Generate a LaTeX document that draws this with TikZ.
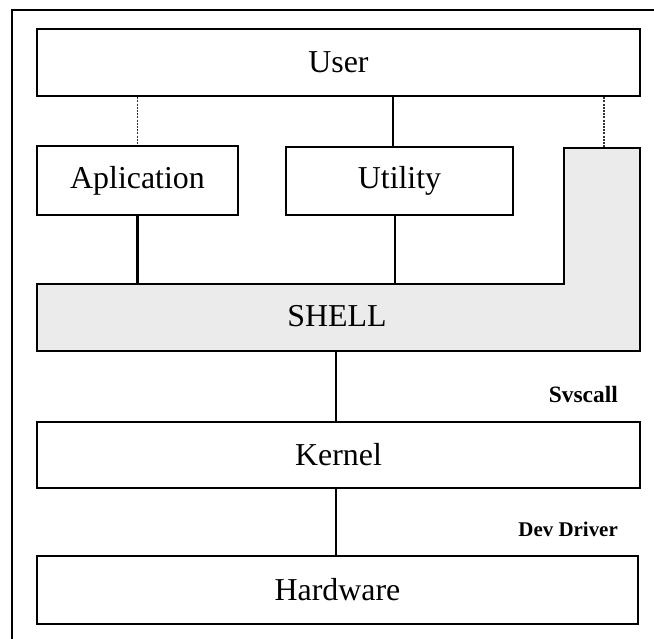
\documentclass[tikz,border=0pt]{standalone}
\usepackage{fontspec}
\setmainfont{Liberation Serif}
\begin{document}
\begin{tikzpicture}[x=1bp,y=-1bp,
  boxstyle/.style={draw=black,line width=2.6bp,fill=white,inner sep=0pt,
    font=\fontsize{32}{36}\selectfont},
  solidlink/.style={draw=black,line width=2.8bp},
  dotlink/.style={draw=black!80,line width=1.4bp,dash pattern=on 2bp off 1.2bp},
  shellfill/.style={draw=black,line width=2.6bp,fill=black!8},
  lbl/.style={font=\bfseries\fontsize{#1}{#1}\selectfont,anchor=east,inner sep=0pt}]
\useasboundingbox (0,0) rectangle (654,639);
\clip (0,0) rectangle (654,639);
\fill[white] (0,0) rectangle (654,639);
% outer frame (right and bottom edges lie outside the picture)
\draw[line width=2.6bp] (12,10) rectangle (700,700);
% boxes
\node[boxstyle,minimum width=603bp,minimum height=67bp] (user) at (338.5,62.5) {User};
\node[boxstyle,minimum width=201bp,minimum height=69bp] (app) at (137.5,180.5) {Aplication};
\node[boxstyle,minimum width=227bp,minimum height=68bp] (util) at (399.5,181) {Utility};
% shell shape
\draw[shellfill] (37,284) -- (564,284) -- (564,148) -- (640,148) -- (640,351) -- (37,351) -- cycle;
\node[font=\fontsize{32}{36}\selectfont,inner sep=0pt] (shell) at (337,316) {SHELL};
\coordinate (shelltop) at (337,284);
\coordinate (shelltab) at (604,148);
\coordinate (shellbot) at (336,351);
\node[boxstyle,minimum width=603bp,minimum height=66bp] (kernel) at (338.5,455) {Kernel};
\node[boxstyle,minimum width=601bp,minimum height=68bp] (hw) at (337.5,590) {Hardware};
% connectors
\draw[dotlink] (user.south -| app.north) -- (app.north);
\draw[solidlink] ([xshift=-6.5bp]user.south -| util.north) -- ([xshift=-6.5bp]util.north);
\draw[dotlink] (user.south -| shelltab) -- (shelltab);
\draw[solidlink] (app.south) -- (app.south |- shelltop);
\draw[solidlink] ([xshift=-4.5bp]util.south) -- ([xshift=-4.5bp]util.south |- shelltop);
\draw[solidlink] (shellbot) -- (kernel.north -| shellbot);
\draw[solidlink] (kernel.south -| shellbot) -- (hw.north -| shellbot);
% labels
\node[lbl=23.5] (svs) at (618,394) {Svscall};
\node[lbl=21] (dev) at (618,529) {Dev Driver};
\end{tikzpicture}
\end{document}
